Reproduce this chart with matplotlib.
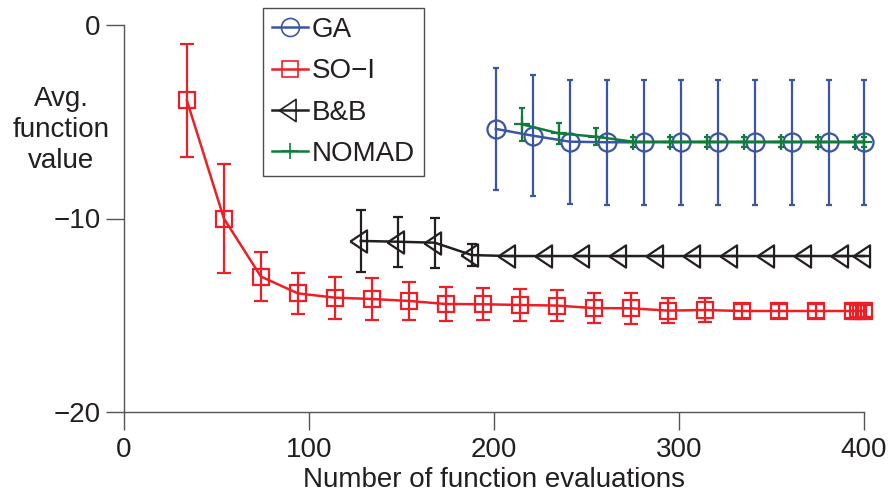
import matplotlib
matplotlib.use("Agg")
import matplotlib.pyplot as plt
from matplotlib.lines import Line2D
import numpy as np

plt.rcParams['font.family'] = ['Liberation Sans', 'DejaVu Sans']

# ---- data ----
ga_x = [201, 221, 241, 261, 281, 301, 321, 341, 361, 381, 400]
ga_y = [-5.37, -5.72, -6.03, -6.06, -6.06, -6.06, -6.06, -6.06, -6.06, -6.06, -6.06]
ga_err = [3.15, 3.13, 3.20, 3.22, 3.22, 3.22, 3.22, 3.22, 3.22, 3.22, 3.22]

soi_x = [34, 54, 74, 94, 114, 134, 154, 174, 194, 214, 234, 254, 274, 294, 314,
         334, 354, 374, 394, 397, 400]
soi_y = [-3.9, -10.0, -13.0, -13.87, -14.09, -14.16, -14.26, -14.42, -14.43, -14.47,
         -14.5, -14.63, -14.64, -14.76, -14.73, -14.78, -14.78, -14.78, -14.78,
         -14.78, -14.78]
soi_err = [2.9, 2.8, 1.25, 1.07, 1.09, 1.08, 0.97, 0.88, 0.84, 0.81, 0.82, 0.76,
           0.79, 0.66, 0.63, 0.35, 0.35, 0.35, 0.35, 0.3, 0.3]

bb_x = [128, 148, 168, 188, 208, 228, 248, 268, 288, 308, 328, 348, 368, 388, 400]
bb_y = [-11.16, -11.2, -11.25, -11.89, -11.94, -11.94, -11.94, -11.94, -11.94,
        -11.94, -11.94, -11.94, -11.94, -11.94, -11.94]
bb_err = [1.58, 1.29, 1.29, 0.55, 0, 0, 0, 0, 0, 0, 0, 0, 0, 0, 0]

nomad_x = [215, 235, 255, 275, 295, 315, 335, 355, 375, 395, 400]
nomad_y = [-5.13, -5.6, -5.77, -6.03, -6.03, -6.03, -6.03, -6.03, -6.03, -6.03, -6.03]
nomad_err = [0.86, 0.56, 0.43, 0.25, 0.25, 0.25, 0.25, 0.25, 0.25, 0.25, 0.25]

labels = ['GA', 'SO\u2212I', 'B&B', 'NOMAD']
colors = ['#3a55a6', '#ed1f26', '#231f20', '#107c3a']

# left-pointing triangle centred on its centroid
tri = [(-1.0, 0.0), (0.5, 1.0), (0.5, -1.0), (-1.0, 0.0)]

fig = plt.figure(figsize=(8.91, 4.97), dpi=100)
ax = fig.add_axes([124 / 891, (497 - 412) / 497, (864 - 124) / 891, (412 - 25) / 497])

series = [
    (ga_x, ga_y, ga_err, 'o', 13, 2.5, colors[0]),
    (soi_x, soi_y, soi_err, 's', 11, 4.8, colors[1]),
    (bb_x, bb_y, bb_err, tri, 16, 3.6, colors[2]),
    (nomad_x, nomad_y, nomad_err, '+', 12, 2.2, colors[3]),
]

for x, y, e, m, ms, cs, c in series:
    ax.errorbar(x, y, yerr=e, color=c, marker=m, markersize=ms, mfc='none',
                mec=c, mew=1.6, lw=1.8, elinewidth=1.6, capsize=cs,
                capthick=1.6, clip_on=False)

ax.set_xlim(0, 400)
ax.set_ylim(-20, 0)
ax.set_xticks([0, 100, 200, 300, 400])
ax.set_yticks([-20, -10, 0])
ax.set_yticklabels(['\u221220', '\u221210', '0'])

for side in ['top', 'right']:
    ax.spines[side].set_visible(False)
for side in ['left', 'bottom']:
    ax.spines[side].set_color('#555555')
    ax.spines[side].set_linewidth(1.0)
ax.tick_params(direction='out', length=13, width=1.0, color='#555555',
               labelsize=20, pad=4, labelcolor='#231f20')
ax.tick_params(axis='x', pad=5)

ax.set_xlabel('Number of function evaluations', fontsize=20, color='#231f20',
              labelpad=3)
fig.text(61 / 891, 1 - 130 / 497, 'Avg.\nfunction\nvalue', fontsize=20,
         ha='center', va='center', color='#231f20', linespacing=1.25)

handles = [Line2D([], [], color=c, marker=m, markersize=ms, mfc='none', mec=c,
                  mew=1.2, lw=1.8)
           for (x, y, e, m, ms, cs, c) in series]
leg = ax.legend(handles, labels, loc='upper left',
                bbox_to_anchor=(263 / 891, 1 - 8 / 497),
                bbox_transform=fig.transFigure, fontsize=20, frameon=True,
                fancybox=False, edgecolor='#231f20', handlelength=1.3,
                handletextpad=0.12, labelspacing=0.55, borderpad=0.33,
                borderaxespad=0)
leg.get_frame().set_linewidth(1.0)
for t in leg.get_texts():
    t.set_color('#231f20')

fig.savefig('out.png', dpi=100)
